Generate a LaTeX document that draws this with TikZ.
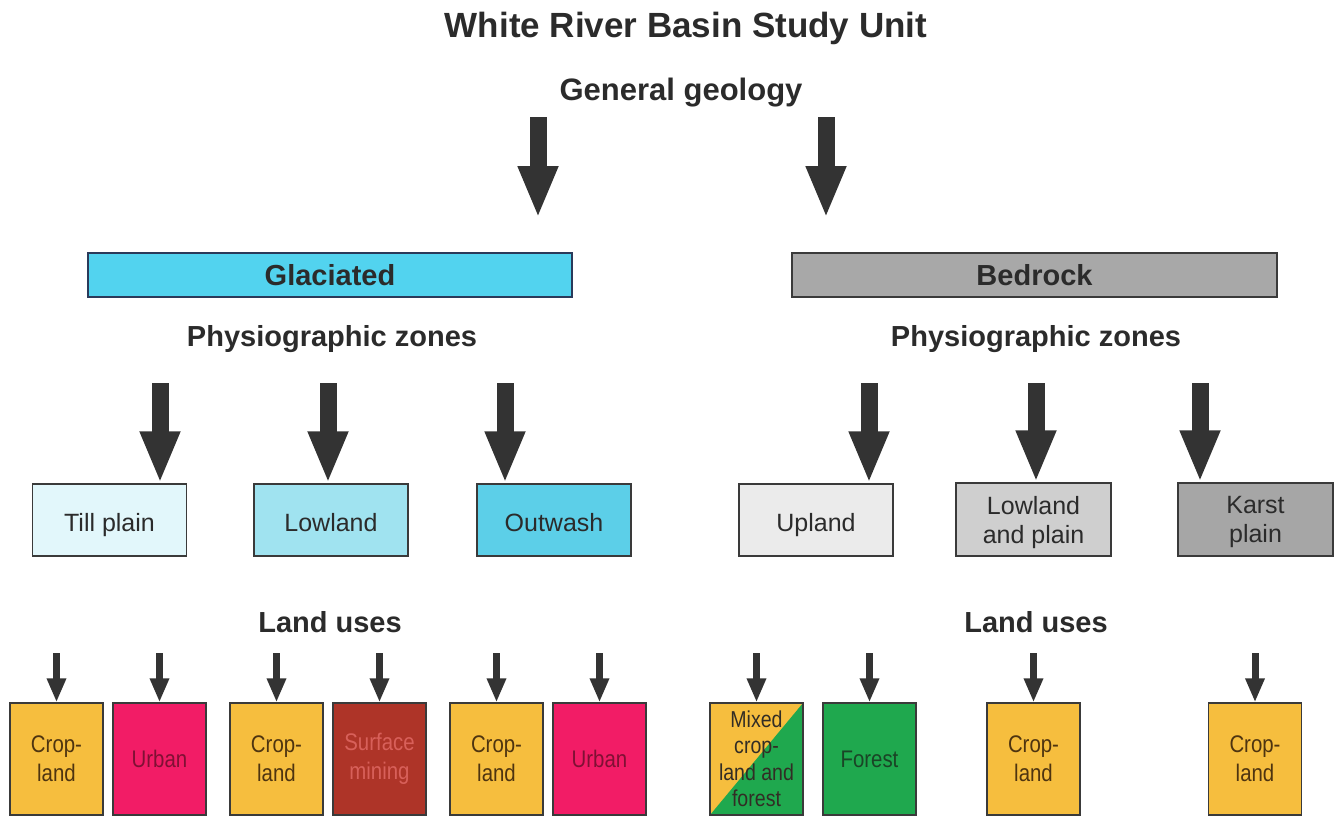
\documentclass[tikz,border=0pt]{standalone}
\usepackage{fontspec}
\setmainfont{Liberation Sans}
\newfontfamily\condensed[FakeStretch=0.85]{Liberation Sans}
\usetikzlibrary{arrows.meta}
\definecolor{ink}{HTML}{2B2B2B}
\definecolor{arrowgrey}{HTML}{333333}
\definecolor{boxline}{HTML}{3A3A3A}
\definecolor{glacfill}{HTML}{52D3EF}
\definecolor{glacline}{HTML}{2A3A5A}
\definecolor{tillfill}{HTML}{E2F7FB}
\definecolor{lowfill}{HTML}{A0E3F0}
\definecolor{outfill}{HTML}{5CCFE8}
\definecolor{bedfill}{HTML}{A8A8A8}
\definecolor{uplfill}{HTML}{EBEBEB}
\definecolor{lapfill}{HTML}{CFCFCF}
\definecolor{karstfill}{HTML}{A6A6A6}
\definecolor{cropfill}{HTML}{F6BE3E}
\definecolor{urbanfill}{HTML}{F21C66}
\definecolor{minefill}{HTML}{AE3428}
\definecolor{forestfill}{HTML}{1FA84E}
\definecolor{croptext}{HTML}{4E3410}
\definecolor{urbantext}{HTML}{801034}
\definecolor{minetext}{HTML}{D8605A}
\definecolor{foresttext}{HTML}{1A4426}
\newcommand{\lowered}[1]{\raisebox{-4.5pt}[18pt][5pt]{#1}}
\begin{document}
\begin{tikzpicture}[x=1pt,y=-1pt,
  heading/.style={font=\fontsize{29}{34}\selectfont\bfseries, text=ink},
  bar/.style={line width=1.5pt, minimum width=484pt, minimum height=44pt, inner sep=0pt,
    font=\fontsize{29}{34}\selectfont\bfseries, text=ink},
  zone/.style={draw=boxline, line width=1.5pt, minimum width=154pt, minimum height=72pt,
    inner sep=0pt, align=center, font=\fontsize{25}{29}\selectfont, text=ink},
  landuse/.style={draw=boxline, line width=1.3pt, minimum width=93pt, minimum height=112pt,
    inner sep=0pt, align=center, font=\condensed\fontsize{24}{29}\selectfont},
  bigarrow/.style={draw=arrowgrey, line width=17pt, -{Triangle[width=37pt,length=52pt]}},
  smallarrow/.style={draw=arrowgrey, line width=7pt, -{Triangle[width=18pt,length=24pt]}}]
\useasboundingbox (0,0) rectangle (1340,817);

% headings
\node[font=\fontsize{35}{40}\selectfont\bfseries, text=ink] (title) at (686,28) {White River Basin Study Unit};
\node[font=\fontsize{31}{36}\selectfont\bfseries, text=ink] (geol) at (681,93) {General geology};

% top arrows
\coordinate (ta1) at (538,117); \coordinate (tb1) at (538,218);
\coordinate (ta2) at (826,117); \coordinate (tb2) at (826,218);
\draw[bigarrow] (ta1) -- (tb1);
\draw[bigarrow] (ta2) -- (tb2);

% bars
\node[bar, draw=glacline, fill=glacfill] (glac) at (330,275) {Glaciated};
\node[bar, draw=boxline, fill=bedfill, minimum width=485pt] (bed) at (1034.5,275) {Bedrock};

\node[heading] (pzl) at (332,339) {Physiographic zones};
\node[heading] (pzr) at (1036,339) {Physiographic zones};

% zone boxes
\node[zone, fill=tillfill] (till) at (109.5,520) {\lowered{Till plain}};
\node[zone, fill=lowfill] (low) at (331,520) {\lowered{Lowland}};
\node[zone, fill=outfill] (out) at (554,520) {\lowered{Outwash}};
\node[zone, fill=uplfill] (upl) at (816,520) {\lowered{Upland}};
\node[zone, fill=lapfill, minimum width=155pt, minimum height=73pt, text depth=-3pt] (lap) at (1033.5,519.5) {Lowland\\and plain};
\node[zone, fill=karstfill, minimum width=155pt, minimum height=73pt, text depth=-3pt] (karst) at (1255.5,519.5) {Karst\\plain};

% zone arrows
\foreach \n/\x in {till/160, low/328, out/505, upl/869, lap/1036, karst/1200}{
  \coordinate (z\n) at (\x,383);
  \draw[bigarrow] (z\n) -- (z\n |- \n.north);
}

\node[heading] (lul) at (330,622) {Land uses};
\node[heading] (lur) at (1036,622) {Land uses};

% land-use boxes
\node[landuse, fill=cropfill, text=croptext] (c1) at (56.5,759) {Crop-\\land};
\node[landuse, fill=urbanfill, text=urbantext] (u1) at (159.5,759) {Urban};
\node[landuse, fill=cropfill, text=croptext] (c2) at (276.5,759) {Crop-\\land};
\node[landuse, fill=minefill, text=minetext] (sm) at (379.5,759) {Surface\\mining};
\node[landuse, fill=cropfill, text=croptext] (c3) at (496.5,759) {Crop-\\land};
\node[landuse, fill=urbanfill, text=urbantext] (u2) at (599.5,759) {Urban};
\node[landuse, fill=cropfill, text=ink!80!croptext,
  font=\condensed\fontsize{23}{26.5}\selectfont,
  path picture={\fill[forestfill] (path picture bounding box.south west) --
     (path picture bounding box.north east) -- (path picture bounding box.south east) -- cycle;}]
  (mx) at (756.5,759) {Mixed\\crop-\\land and\\forest};
\node[landuse, fill=forestfill, text=foresttext] (fo) at (869.5,759) {Forest};
\node[landuse, fill=cropfill, text=croptext] (c4) at (1033.5,759) {Crop-\\land};
\node[landuse, fill=cropfill, text=croptext] (c5) at (1255,759) {Crop-\\land};

% land-use arrows
\foreach \n in {c1,u1,c2,sm,c3,u2,mx,fo,c4,c5}{
  \coordinate (s\n) at (\n.north |- 0,653);
  \draw[smallarrow] (s\n) -- (\n.north);
}
\end{tikzpicture}
\end{document}
